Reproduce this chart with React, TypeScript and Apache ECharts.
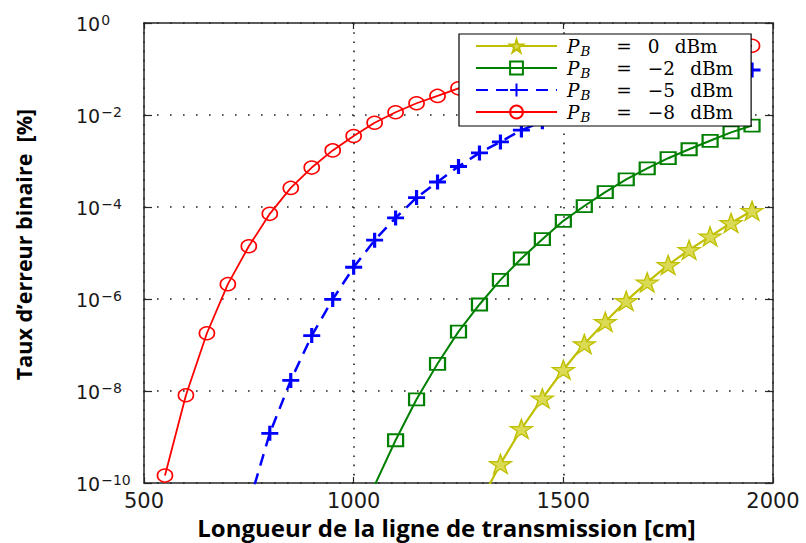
import React, { useEffect, useRef } from 'react';
import * as echarts from 'echarts';

// ---- Data ----
const X_TICKS = [500, 1000, 1500, 2000];
const LEGEND_VALUES = ['0', '−2', '−5', '−8'];
const SERIES_NAMES = ['PB = 0 dBm', 'PB = -2 dBm', 'PB = -5 dBm', 'PB = -8 dBm'];

const LENGTH_0 = [1300, 1350, 1400, 1450, 1500, 1550, 1600, 1650, 1700, 1750, 1800, 1850, 1900, 1950];
const BER_0 = [3.6e-11, 2.6e-10, 1.5e-9, 6.9e-9, 2.9e-8, 1.05e-7, 3.2e-7, 9.1e-7, 2.3e-6, 5.5e-6, 1.17e-5, 2.3e-5, 4.5e-5, 8.3e-5];

const LENGTH_M2 = [1050, 1100, 1150, 1200, 1250, 1300, 1350, 1400, 1450, 1500, 1550, 1600, 1650, 1700, 1750, 1800, 1850, 1900, 1950];
const BER_M2 = [8.9e-11, 8.5e-10, 6.6e-9, 3.9e-8, 1.95e-7, 7.6e-7, 2.6e-6, 7.6e-6, 2.0e-5, 5.0e-5, 1.05e-4, 2.1e-4, 4.0e-4, 6.9e-4, 1.15e-3, 1.8e-3, 2.75e-3, 4.2e-3, 5.9e-3];

const LENGTH_M5 = [750, 800, 850, 900, 950, 1000, 1050, 1100, 1150, 1200, 1250, 1300, 1350, 1400, 1450, 1950];
const BER_M5 = [3.5e-11, 1.2e-9, 1.7e-8, 1.6e-7, 9.8e-7, 4.9e-6, 1.9e-5, 5.8e-5, 1.6e-4, 3.5e-4, 7.6e-4, 1.5e-3, 2.6e-3, 4.7e-3, 7.1e-3, 9.5e-2];

const LENGTH_M8 = [550, 600, 650, 700, 750, 800, 850, 900, 950, 1000, 1050, 1100, 1150, 1200, 1250, 1950];
const BER_M8 = [1.45e-10, 8.1e-9, 1.8e-7, 2.1e-6, 1.4e-5, 7.1e-5, 2.6e-4, 7.2e-4, 1.7e-3, 3.5e-3, 6.8e-3, 1.15e-2, 1.8e-2, 2.6e-2, 3.8e-2, 3.2e-1];

const Y_MIN = 1e-10;
const Y_MAX = 1;

// ---- Styles ----
const STAR_PATH =
  'path://M0,-1 L0.2245,-0.309 L0.951,-0.309 L0.363,0.118 L0.588,0.809 L0,0.382 L-0.588,0.809 L-0.363,0.118 L-0.951,-0.309 L-0.2245,-0.309 Z';
const PLUS_PATH = 'path://M-1,0 L1,0 M0,-1 L0,1';
const AXIS_COLOR = '#262626';

const pairs = (xs: number[], ys: number[]) => xs.map((x, i) => [x, ys[i]]);

export default function App() {
  const ref = useRef<HTMLDivElement>(null);

  useEffect(() => {
    document.body.style.margin = '0';
    if (!ref.current) return;
    const chart = echarts.init(ref.current, undefined, { renderer: 'svg' });

    const axisLine = { show: true, lineStyle: { color: AXIS_COLOR, width: 1.5 } };
    const serif = 'DejaVu Serif';
    const LF = 18.5;

    const option: any = {
      animation: false,
      backgroundColor: '#ffffff',
      grid: { left: 144, right: 33, top: 23, bottom: 60, containLabel: false, outerBoundsMode: 'none' },
      legend: {
        orient: 'vertical',
        left: 459,
        top: 34,
        z: 20,
        padding: [2, 18, 2, 16],
        itemGap: 0,
        itemWidth: 81,
        itemHeight: 16,
        backgroundColor: '#ffffff',
        borderColor: '#000000',
        borderWidth: 1.2,
        selectedMode: false,
        data: SERIES_NAMES,
        formatter: (name: string) => {
          const i = SERIES_NAMES.indexOf(name);
          return `{i|P}{s|B}{eq|=}{n|${LEGEND_VALUES[i]}}{u|dBm}`;
        },
        textStyle: {
          fontFamily: serif,
          fontSize: LF,
          lineHeight: 20,
          color: '#000',
          rich: {
            i: { fontFamily: serif, fontStyle: 'italic', fontSize: LF, lineHeight: 20, height: 20, padding: [0, 0, 0, 5], color: '#000' },
            s: { fontFamily: serif, fontStyle: 'italic', fontSize: 13.5, lineHeight: 10, height: 10, verticalAlign: 'bottom', padding: [7, 4, 0, 1], color: '#000' },
            eq: { fontFamily: serif, fontSize: LF, lineHeight: 20, height: 20, padding: [0, 16, 0, 22], color: '#000' },
            n: { fontFamily: serif, fontSize: LF, lineHeight: 20, height: 20, padding: [0, 15, 0, 0], color: '#000' },
            u: { fontFamily: serif, fontSize: LF, lineHeight: 20, height: 20, color: '#000' },
          },
        },
      },
      xAxis: [
        {
          type: 'value',
          min: X_TICKS[0],
          max: X_TICKS[X_TICKS.length - 1],
          interval: X_TICKS[1] - X_TICKS[0],
          position: 'bottom',
          axisLine,
          axisTick: { show: true, inside: true, length: 6, lineStyle: { color: AXIS_COLOR, width: 1.2 } },
          axisLabel: {
            fontFamily: 'DejaVu Sans',
            fontSize: 21,
            color: '#1a1a1a',
            margin: 7,
            formatter: (v: number) => String(v),
          },
          splitLine: { show: true, lineStyle: { color: '#222', width: 1.6, type: [1.6, 7.6] } },
          name: 'Longueur de la ligne de transmission [cm]',
          nameLocation: 'middle',
          nameGap: 28,
          nameTextStyle: { fontFamily: 'Open Sans', fontWeight: 'bold', fontSize: 24, color: '#000', padding: [0, 24, 0, 0] },
        },
        {
          type: 'value',
          min: X_TICKS[0],
          max: X_TICKS[X_TICKS.length - 1],
          interval: X_TICKS[1] - X_TICKS[0],
          position: 'top',
          axisLine,
          axisTick: { show: true, inside: true, length: 6, lineStyle: { color: AXIS_COLOR, width: 1.2 } },
          axisLabel: { show: false },
          splitLine: { show: false },
        },
      ],
      yAxis: [
        {
          type: 'log',
          logBase: 10,
          min: Y_MIN,
          max: Y_MAX,
          interval: 2,
          position: 'left',
          axisLine,
          axisTick: { show: true, inside: true, length: 8, lineStyle: { color: AXIS_COLOR, width: 1.2 } },
          axisLabel: {
            align: 'left',
            margin: 68,
            color: '#1a1a1a',
            formatter: (v: number) => {
              const e = Math.round(Math.log10(v));
              const s = e < 0 ? '−' + String(-e) : String(e);
              return `{b|10}{e|${s}}`;
            },
            rich: {
              b: { fontFamily: 'DejaVu Sans', fontSize: 19, lineHeight: 20, verticalAlign: 'bottom', color: '#1a1a1a' },
              e: { fontFamily: 'DejaVu Sans', fontSize: 14, lineHeight: 14, verticalAlign: 'top', padding: [0, 0, 12, 1], color: '#1a1a1a' },
            },
          },
          splitLine: { show: true, lineStyle: { color: '#222', width: 1.6, type: [1.6, 11.4] } },
          name: 'Taux d’erreur binaire  [%]',
          nameLocation: 'middle',
          nameRotate: 90,
          nameGap: 110,
          nameTextStyle: { fontFamily: 'Open Sans', fontWeight: 'bold', fontSize: 21.5, color: '#000', padding: [0, 0, 0, 17] },
        },
        {
          type: 'log',
          logBase: 10,
          min: Y_MIN,
          max: Y_MAX,
          interval: 2,
          position: 'right',
          axisLine,
          axisTick: { show: true, inside: true, length: 8, lineStyle: { color: AXIS_COLOR, width: 1.2 } },
          axisLabel: { show: false },
          splitLine: { show: false },
        },
      ],
      series: [
        {
          name: SERIES_NAMES[0],
          type: 'line',
          data: pairs(LENGTH_0, BER_0),
          symbol: STAR_PATH,
          symbolSize: [22, 19],
          showAllSymbol: true,
          itemStyle: { color: '#dada55', borderColor: '#bfbf00', borderWidth: 1.3 },
          lineStyle: { color: '#bfbf00', width: 2.2 },
        },
        {
          name: SERIES_NAMES[1],
          type: 'line',
          data: pairs(LENGTH_M2, BER_M2),
          symbol: 'rect',
          symbolSize: [15, 12],
          showAllSymbol: true,
          itemStyle: { color: 'rgba(0,0,0,0)', borderColor: '#008000', borderWidth: 2 },
          lineStyle: { color: '#008000', width: 2 },
        },
        {
          name: SERIES_NAMES[2],
          type: 'line',
          data: pairs(LENGTH_M5, BER_M5),
          symbol: PLUS_PATH,
          symbolSize: [17, 15],
          showAllSymbol: true,
          itemStyle: { color: '#0000ff', borderColor: '#0000ff', borderWidth: 3 },
          lineStyle: { color: '#0000ff', width: 2.5, type: [12, 8] },
        },
        {
          name: SERIES_NAMES[3],
          type: 'line',
          data: pairs(LENGTH_M8, BER_M8),
          symbol: 'circle',
          symbolSize: [15, 13],
          showAllSymbol: true,
          itemStyle: { color: 'rgba(0,0,0,0)', borderColor: '#ff0000', borderWidth: 1.6 },
          lineStyle: { color: '#ff0000', width: 1.8 },
        },
      ],
    };

    chart.setOption(option);
    return () => {
      chart.dispose();
    };
  }, []);

  return <div ref={ref} style={{ width: 806, height: 543 }} />;
}
